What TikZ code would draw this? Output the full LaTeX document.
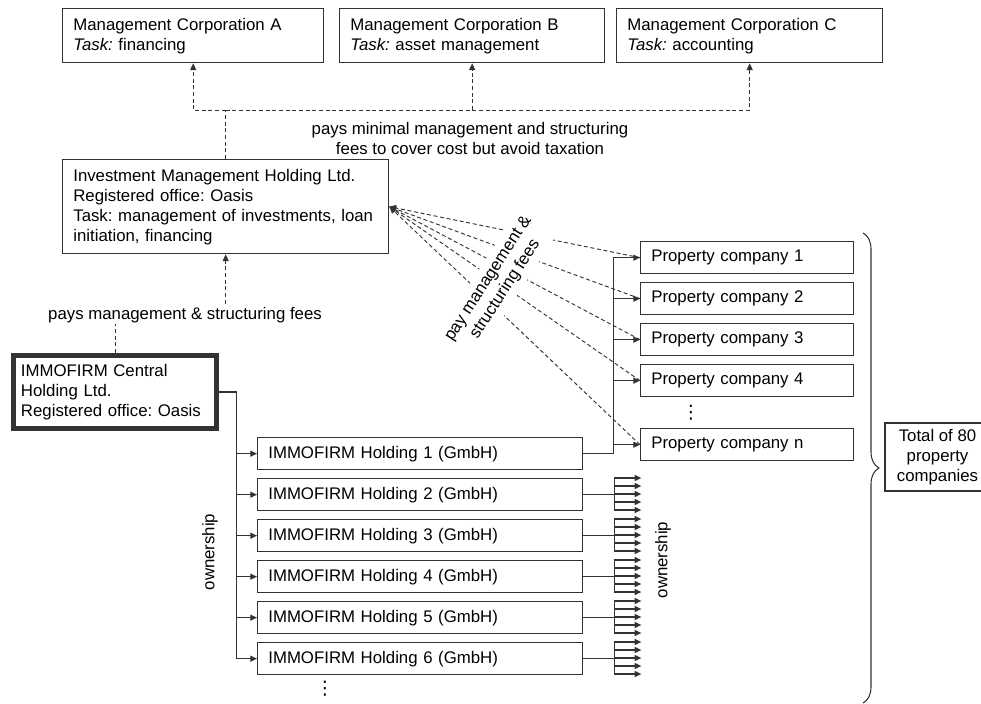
\documentclass[tikz,border=0pt]{standalone}
\usepackage{fontspec}
\setmainfont{Liberation Sans}
\newfontfamily\symfont{DejaVu Sans}
\usetikzlibrary{arrows.meta,decorations.pathreplacing}
\definecolor{ink}{HTML}{333333}

\tikzset{
  firm/.style={draw=ink, line width=1pt, anchor=north west, align=left,
    inner xsep=8pt, inner ysep=0pt},
  own/.style={draw=ink, line width=0.8pt, -{Triangle[length=5pt,width=4.5pt]}},
  fee/.style={draw=ink, line width=0.7pt, dash pattern=on 3pt off 2pt,
    -{Triangle[length=5pt,width=4.5pt]}},
  caption/.style={align=center, inner sep=1pt},
  moredots/.style={font=\symfont\fontsize{14}{14}\selectfont, inner sep=0pt}
}

\begin{document}
\frenchspacing
\begin{tikzpicture}[x=0.75pt, y=-0.75pt, font=\fontsize{12.6}{15}\selectfont]
  \useasboundingbox (0,0) rectangle (981,703);

  % Management corporations
  \node[firm, text width=179.75pt, minimum height=40.5pt] (mca) at (62,8)
    {Management Corporation A\\\textit{Task:} financing};
  \node[firm, text width=182.75pt, minimum height=40.5pt] (mcb) at (339,8)
    {Management Corporation B\\\textit{Task:} asset management};
  \node[firm, text width=183.5pt, minimum height=40.5pt] (mcc) at (616,8)
    {Management Corporation C\\\textit{Task:} accounting};

  % Investment management holding
  \node[firm, text width=228.5pt, minimum height=70.5pt] (imh) at (62,159)
    {Investment Management Holding Ltd.\\Registered office: Oasis\\
     Task: management of investments, loan\\initiation, financing};

  % Central holding
  \node[firm, line width=3.75pt, text width=141pt, inner xsep=5.6pt,
    minimum height=54.75pt] (ich) at (11,353)
    {IMMOFIRM Central\\Holding Ltd.\\Registered office: Oasis};

  % Holdings
  \foreach \i in {1,...,6} {
    \pgfmathsetmacro\htop{437+41*(\i-1)}
    \node[firm, text width=227.75pt, minimum height=24pt] (h\i) at (257,\htop)
      {IMMOFIRM Holding \i\ (GmbH)};
  }

  % Property companies
  \foreach \j/\ptop in {1/241, 2/282, 3/323, 4/364, n/428}
    \node[firm, text width=143.75pt, minimum height=24pt] (pc\j) at (640,\ptop)
      {Property company \j};

  \node[firm, anchor=center, align=center, minimum width=78.75pt,
    minimum height=51pt] (total) at (937.5,457) {Total of 80\\property\\companies};

  % Fees to the management corporations
  \coordinate (bus) at (imh.north |- 0,110);
  \draw[fee, -] (imh.north) -- (bus);
  \foreach \m in {a,b,c}
    \draw[fee] (bus) -| (mc\m.south);
  \node[caption] (feetop) at (470,138)
    {pays minimal management and structuring\\fees to cover cost but avoid taxation};

  % Fees from the central holding
  \draw[fee] (ich.north) -- ++(0,-38) -| (imh.south);
  \node[caption, fill=white] (feeleft) at (185,315) {pays management \& structuring fees};

  % Fees from the property companies
  \foreach \j in {1,2,3,4,n}
    \draw[fee] (pc\j.west) -- (imh.east);
  \node[caption, fill=white, inner sep=4pt, rotate=57] (feediag) at (497,284)
    {pay management \&\\structuring fees};

  % Ownership
  \foreach \i in {1,...,6}
    \draw[own] (ich.east) -- ++(18,0) |- (h\i.west);
  \foreach \j in {1,2,3,4,n}
    \draw[own] (h1.east) -- ++(30,0) |- (pc\j.west);
  \foreach \i in {2,...,6} {
    \draw[own, -] (h\i.east) -- ++(31,0);
    \draw[own, -] (h\i.north east) ++(31,0) -- ++(0,32);
    \foreach \k in {0,...,4}
      \draw[own] (h\i.north east) ++(31,8*\k) -- ++(27,0);
  }
  \node[caption, rotate=90] (ownleft) at (210,552) {ownership};
  \node[caption, rotate=90] (ownright) at (663,560) {ownership};

  \node[moredots] (hdots) at (325,689) {⋮};
  \node[moredots] (pcdots) at (691,413) {⋮};

  % Brace
  \draw[ink, line width=0.8pt, decorate, decoration={brace, amplitude=12pt}]
    (863,233) -- (863,703);
\end{tikzpicture}
\end{document}
